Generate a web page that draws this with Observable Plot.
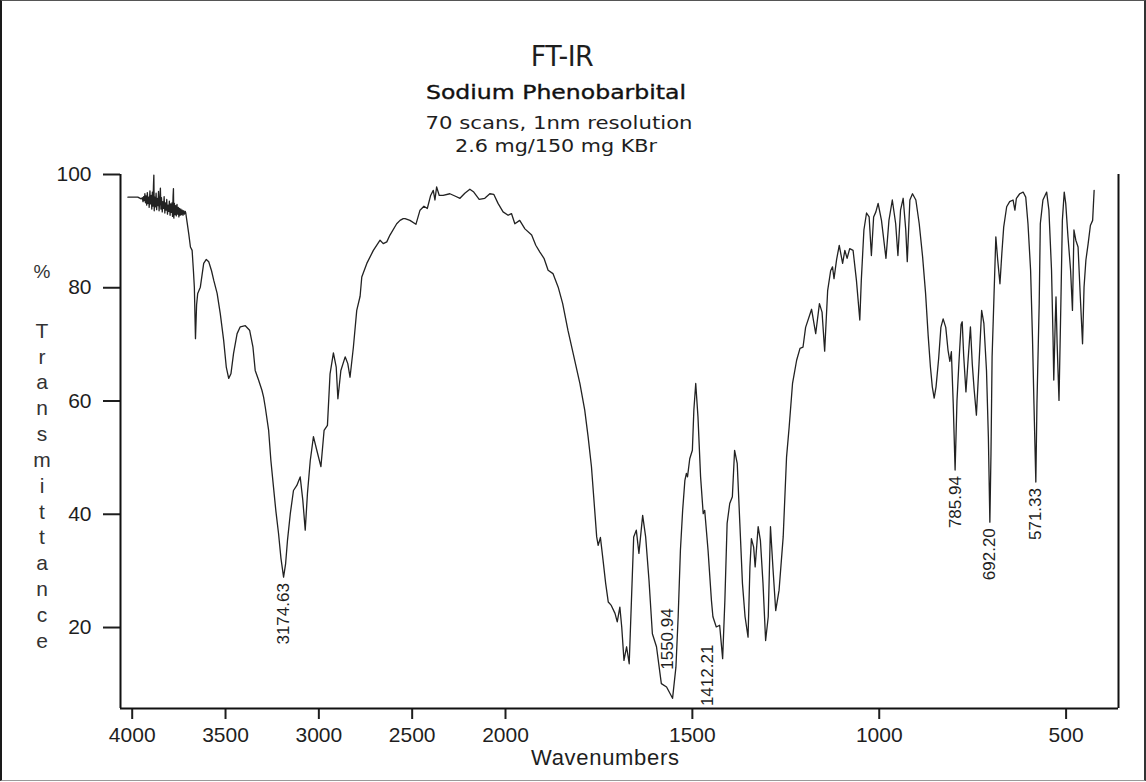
<!DOCTYPE html>
<html><head><meta charset="utf-8">
<script src="https://cdn.jsdelivr.net/npm/d3@7"></script>
<script src="https://cdn.jsdelivr.net/npm/@observablehq/plot@0.6"></script>
<style>
html,body{margin:0;padding:0;background:#fff;}
#page{position:relative;width:1146px;height:782px;overflow:hidden;background:#fff;}
#chart{position:absolute;left:0;top:0;}
#frame{position:absolute;left:0;top:0;width:1146px;height:781px;box-sizing:border-box;border-left:2px solid #1a1a1a;border-top:1px solid #555;border-right:2px solid #333;border-bottom:1px solid #9a9a9a;pointer-events:none;}
.t{position:absolute;white-space:nowrap;text-align:center;width:600px;line-height:1;color:#1e1e1e;transform-origin:300px 50%;}
</style></head>
<body><div id="page"><div id="chart"></div><div id="frame"></div></div>
<script>
// ---- data ----
const titleLines = ["FT-IR", "Sodium Phenobarbital", "70 scans, 1nm resolution", "2.6 mg/150 mg KBr"];
const xLabel = "Wavenumbers";
const yLabelLetters = ["T","r","a","n","s","m","i","t","t","a","n","c","e"];
const xTicks = [4000, 3500, 3000, 2500, 2000, 1500, 1000, 500];
const yTicks = [20, 40, 60, 80, 100];
const xDomain = [4062.7, 2000, 359.8];   // scale expands 2x below 2000 cm-1
const yDomain = [5.7, 100];
const peakLabels = [3174.63, 1550.94, 1412.21, 785.94, 692.20, 571.33];

const spectrumWn = [4023,3995,3970,3952,
 3946,3942,3939,3935,3932,3929,3926,3922,3919,3915,3912,3909,3905,3902,3898,3895,3892,3889,3886,3884,3882,3879,3876,3872,3869,3866,3862,3859,3856,3852,3849,3846,3843,3839,3836,3832,3829,3825,3822,3818,3815,3811,3808,3804,3801,3797,3794,3790,3787,3784,3781,3779,3777,3774,3771,3767,3764,3760,3757,3753,3750,3746,3743,3739,3736,3732,3728,3724,3720,3716,3713,
 3706,3697,3688,3679,3672,3667,3661,3655,3649,3635,3617,3603,3590,3575,3563,3545,3528,3510,3496,3483,3471,3457,3438,3421,3394,3371,3353,3341,3323,3305,3296,3287,3269,3257,3243,3230,3216,3203,3189,3178,3168,3153,3136,3118,3100,3086,3073,3061,3046,3029,3011,2989,2972,2954,2940,2922,2907,2898,2882,2859,2845,2833,2815,2797,2779,2770,2743,2708,2672,2655,2636,2619,2583,2565,2548,2538,2512,2480,2458,2437,2419,2401,2387,2378,2369,2355,2334,2298,2271,2244,2218,2191,2170,2141,2111,2084,2063,2040,2013,
 1993,1984,1975,1962,1948,1930,1919,1908,1897,1886,1873,1859,1847,1833,1819,1801,1788,1779,1770,1764,1756,1752,1746,1739,1732,1725,1717,1707,1701,1694,1689,1683,1676,1669,1663,1657,1650,1643,1633,1625,1616,1607,1596,1583,1569,1553,1544,1538,1532,1526,1520,1516,1513,1507,1500,1496,1491,1485,1478,1471,1467,1458,1449,1445,1436,1427,1419,1413,1407,1400,1393,1387,1380,1373,1366,1359,1351,1346,1342,1336,1332,1324,1318,1311,1304,1297,1291,1284,1277,1268,1257,1248,1241,1232,1221,1212,1204,1197,1181,1170,1160,1153,1146,1138,1130,1125,1121,1114,1107,1098,1092,1086,1079,1070,1061,1052,1048,1041,1034,1027,1021,1015,1009,1003,994,982,974,965,956,950,943,936,929,925,918,911,902,893,884,876,869,863,858,853,848,841,835,829,822,816,811,807,802,797,792,787,781,778,774,768,762,756,751,746,740,733,726,720,713,708,704,701,698,693,688,683,677,672,667,659,651,642,637,633,624,615,608,602,595,590,586,581,578,572,569,562,552,546,539,535,533,529,527,524,519,514,510,505,501,495,488,483,479,474,468,462,456,452,447,441,435,429,425];

const spectrumT = [96.0,96.0,96.0,95.7,
 95.9,95.2,96.1,95.4,96.6,95.0,96.2,94.6,96.8,94.9,96.0,94.2,97.1,94.8,96.3,93.9,96.9,94.4,98.2,99.9,93.6,96.0,94.3,96.7,93.8,95.8,94.5,97.0,93.6,95.5,97.6,93.9,95.9,93.4,95.2,94.0,96.1,93.2,95.0,93.7,95.6,93.0,94.6,93.5,95.3,92.8,94.8,93.3,95.0,92.6,96.2,97.5,92.3,94.9,92.9,94.5,92.7,94.7,93.0,94.2,92.5,94.0,92.8,93.9,92.9,93.7,92.8,93.6,93.0,93.5,93.2,
 91.6,89.5,87.2,86.6,83.0,80.1,71.0,77.0,79.0,80.1,84.3,85.0,84.6,83.0,81.3,79.0,75.4,70.7,66.0,64.0,64.8,68.4,71.9,73.1,73.3,72.5,69.5,65.4,63.7,61.9,60.7,58.9,54.8,49.5,44.8,40.5,36.6,32.2,28.9,31.3,35.4,40.1,44.2,45.1,46.6,42.5,37.2,43.7,49.5,53.7,51.3,48.4,54.8,55.7,64.8,68.5,66.0,60.4,65.4,67.8,66.6,64.2,69.5,76.0,78.5,81.9,84.3,86.6,88.4,87.8,88.1,89.3,91.3,91.9,92.2,92.2,91.9,91.2,93.7,94.4,94.0,96.3,97.2,95.5,97.8,96.3,96.3,96.6,96.2,95.8,96.7,97.4,96.9,95.6,95.8,96.6,96.5,94.9,93.4,
 92.8,93.1,91.3,91.9,90.4,89.3,87.5,86.3,85.2,83.1,82.5,80.1,77.2,72.5,68.4,63.1,58.4,53.7,48.4,43.1,36.0,34.5,35.9,31.9,27.8,24.5,23.9,22.5,21.0,23.6,20.1,14.2,16.6,13.6,24.8,36.0,37.2,33.1,39.8,36.0,28.3,18.9,16.6,10.1,9.5,7.5,13.0,21.9,33.6,40.7,46.0,47.2,46.6,49.8,51.3,58.4,63.1,57.2,46.6,40.1,40.7,33.6,24.8,21.9,20.1,20.4,14.5,24.8,38.4,41.9,43.1,51.3,49.0,38.4,27.8,21.9,18.3,30.7,35.7,34.2,30.7,37.8,35.4,27.8,17.7,21.9,37.8,30.1,23.0,26.6,36.0,50.1,55.4,63.1,67.2,69.3,69.5,73.0,76.2,71.9,77.2,75.7,68.8,79.5,83.0,83.7,81.6,85.0,87.5,84.3,86.6,85.2,86.9,86.6,81.3,74.3,81.3,90.2,93.2,92.5,85.7,92.5,93.4,94.9,91.9,85.2,91.9,95.5,91.3,85.7,93.7,95.8,90.2,84.6,95.5,96.6,95.5,91.3,85.5,79.0,71.5,66.0,62.5,60.5,62.5,67.5,73.0,74.5,73.0,69.0,67.0,68.7,59.5,47.8,60.0,66.5,73.5,74.0,68.0,61.6,67.5,73.1,66.5,62.0,57.5,66.6,76.0,73.7,65.4,53.7,38.6,50.7,67.8,78.4,89.0,84.9,80.7,86.0,90.7,94.3,95.2,95.5,93.7,95.8,96.6,96.9,96.0,91.3,83.1,71.3,59.5,45.7,59.5,77.2,91.3,95.5,96.9,93.7,83.1,71.3,63.7,74.3,78.4,70.1,60.1,77.2,91.9,96.9,94.9,89.0,83.1,76.0,90.2,88.4,87.2,78.4,70.1,80.1,84.9,87.8,91.0,91.9,97.2];

// ---- build tables ----
const spectrum = spectrumWn.map((wn, i) => ({wn, t: spectrumT[i]}));
// each label sits at the lowest point of the trace within 20 cm-1 of its reported value
const peaks = peakLabels.map(v => {
  let best = null;
  for (const d of spectrum) if (Math.abs(d.wn - v) <= 20 && (!best || d.t < best.t)) best = d;
  return {label: v.toFixed(2), wn: best.wn, t: best.t};
});
const labelOffset = {"1550.94": {dx: -5, dy: -90}, "1412.21": {dx: -15, dy: -14}};

const ink = "#1e1e1e";
const peakMarks = peaks.map(p => {
  const o = labelOffset[p.label] || {dx: 0, dy: 6};
  return Plot.text([p], {x: "wn", y: "t", text: "label", rotate: -90, textAnchor: "end",
    dx: o.dx, dy: o.dy, fontSize: 17, fill: ink});
});

const chart = Plot.plot({
  width: 1146, height: 782,
  marginLeft: 120, marginRight: 28, marginTop: 174, marginBottom: 74,
  style: {background: "transparent", fontFamily: "'Liberation Sans', Arial, sans-serif", color: ink, overflow: "visible"},
  x: {type: "linear", domain: xDomain, range: [120, 505, 1118]},
  y: {type: "linear", domain: yDomain},
  marks: [
    Plot.axisX({ticks: xTicks, tickFormat: d => String(d), tickSize: 11, tickPadding: 8,
      fontSize: 21, strokeWidth: 2, stroke: ink, label: null}),
    Plot.axisY({ticks: yTicks, tickFormat: d => String(d), tickSize: 17, tickPadding: 12,
      fontSize: 21, strokeWidth: 2, stroke: ink, label: null}),
    Plot.ruleY([yDomain[0]], {x1: xDomain[0], x2: xDomain[2], stroke: "#111", strokeWidth: 2}),
    Plot.ruleX([xDomain[0], xDomain[2]], {y1: yDomain[0], y2: yDomain[1], stroke: "#111", strokeWidth: 2}),
    Plot.line(spectrum, {x: "wn", y: "t", stroke: "#222", strokeWidth: 1.3}),
    ...peakMarks
  ]
});
document.getElementById("chart").appendChild(chart);

// ---- titles and axis titles (HTML text) ----
const page = document.getElementById("page");
function addText(txt, cx, baseline, size, family, opts = {}) {
  const el = document.createElement("div");
  el.className = "t";
  el.textContent = txt;
  const ls = opts.ls || 0;
  el.style.fontFamily = family;
  el.style.fontSize = size + "px";
  el.style.letterSpacing = ls + "px";
  if (opts.weight) el.style.fontWeight = opts.weight;
  if (opts.color) el.style.color = opts.color;
  if (opts.sx) el.style.transform = "scaleX(" + opts.sx + ")";
  if (opts.stroke) el.style.webkitTextStroke = opts.stroke;
  el.style.left = (cx - 300 + ls / 2) + "px";
  el.style.top = (baseline - 0.846 * size) + "px";
  page.appendChild(el);
  return el;
}
const dj = "'DejaVu Sans', Verdana, sans-serif";
const lib = "'Liberation Sans', Arial, sans-serif";
addText(titleLines[0], 562, 67, 28, dj, {ls: -0.6, sx: 0.96});
addText(titleLines[1], 556, 99, 19, dj, {sx: 1.24, color: "#111", stroke: "0.35px #111"});
addText(titleLines[2], 559, 130, 17.4, dj, {sx: 1.22});
addText(titleLines[3], 556, 153, 17.4, dj, {sx: 1.19});
addText(xLabel, 605, 766, 22, lib, {ls: 0.7});

// y-axis title: "%" then the word stacked letter by letter
addText("%", 42, 278, 19, lib, {color: "#333"});
const yl = document.createElement("div");
yl.style.cssText = "position:absolute;left:22px;width:40px;text-align:center;font-size:21px;line-height:25.83px;color:#333;";
yl.style.fontFamily = lib;
yl.style.top = (338 - 20.2) + "px";
yl.innerHTML = yLabelLetters.join("<br>");
page.appendChild(yl);
</script></body></html>
